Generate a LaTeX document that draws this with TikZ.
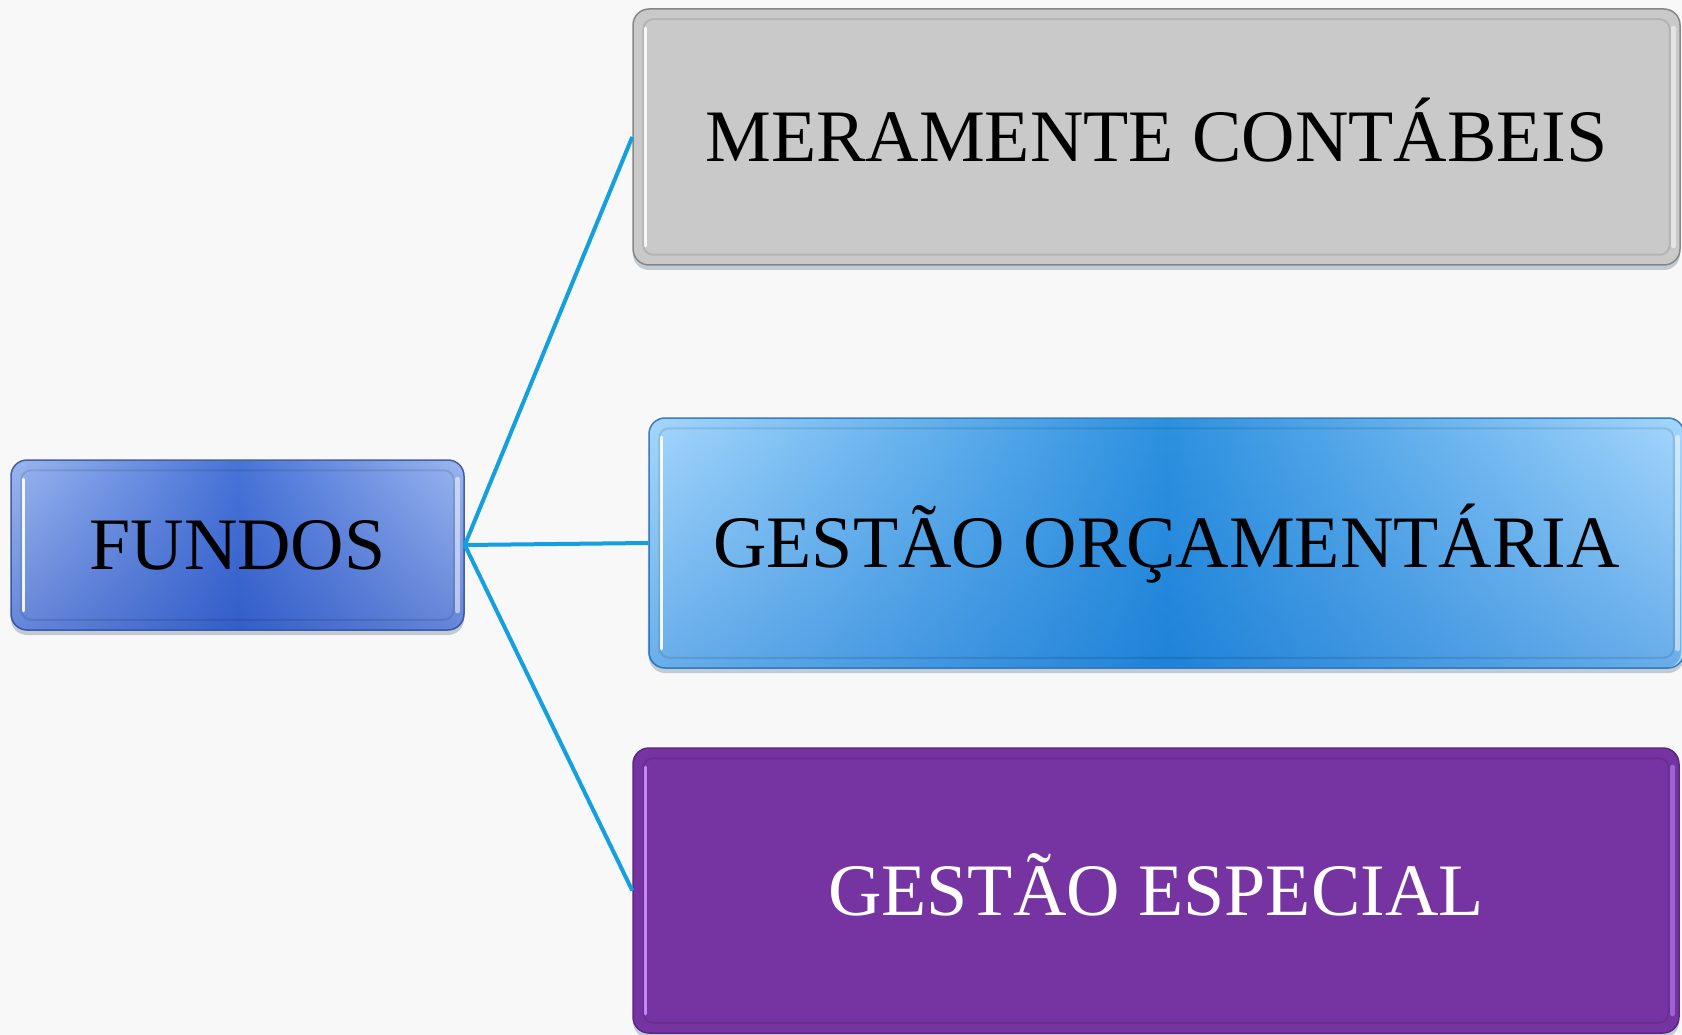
\documentclass[tikz,border=0pt]{standalone}
\usepackage{fontspec}
\setmainfont{Liberation Serif}
\usetikzlibrary{shadows,fadings}
\definecolor{bg}{RGB}{248,248,248}
\definecolor{conn}{RGB}{20,160,222}
\definecolor{grayfill}{RGB}{201,201,201}
\definecolor{grayedge}{RGB}{135,135,135}
\definecolor{fundL}{RGB}{155,182,240}
\definecolor{fundM}{RGB}{72,116,216}
\definecolor{fundD}{RGB}{18,58,178}
\definecolor{fundE}{RGB}{70,95,160}
\definecolor{orcL}{RGB}{165,215,253}
\definecolor{orcM}{RGB}{45,145,224}
\definecolor{orcD}{RGB}{10,108,205}
\definecolor{orcE}{RGB}{60,125,185}
\definecolor{purp}{RGB}{118,52,163}
\definecolor{purpE}{RGB}{92,38,132}
\definecolor{purpH}{RGB}{205,145,255}
\definecolor{shadowc}{RGB}{70,100,130}
\begin{document}
\begin{tikzpicture}[x=1pt,y=-1pt,
  box/.style={rounded corners=16pt, inner sep=0pt, line width=1.5pt,
    font=\fontsize{74}{80}\selectfont, text height=49pt, text depth=0pt,
    drop shadow={shadow xshift=0pt,shadow yshift=-5pt,opacity=.3,fill=shadowc}},
  glow/.style={postaction={fill=#1, opacity=.38, path fading=north}},
  conline/.style={conn, line width=4pt},
  lefthi/.style={line width=3.5pt, line cap=round, opacity=.9},
  righthi/.style={line width=5pt, line cap=round, opacity=.5},
  inner/.style={black, opacity=.10, line width=2pt, rounded corners=10pt}]
\useasboundingbox (0,0) rectangle (1682,1035);
\clip (0,0) rectangle (1682,1035);
\fill[bg] (0,0) rectangle (1682,1035);

\node[box, minimum width=453pt, minimum height=170pt, draw=fundE,
  left color=fundL, right color=fundL, middle color=fundM, glow=fundD] (fundos) at (237.5,545) {FUNDOS};
\node[box, minimum width=1047pt, minimum height=256pt, draw=grayedge, fill=grayfill] (cont) at (1156.5,137) {MERAMENTE CONTÁBEIS};
\node[box, minimum width=1035pt, minimum height=250pt, draw=orcE,
  left color=orcL, right color=orcL, middle color=orcM, glow=orcD] (orc) at (1166.5,543) {GESTÃO ORÇAMENTÁRIA};
\node[box, minimum width=1046pt, minimum height=285pt, draw=purpE, fill=purp, text=white] (esp) at (1156,890.5) {GESTÃO ESPECIAL};

% bevel highlights
\foreach \n/\hc in {fundos/white,cont/white,orc/white,esp/purpH}{
  \draw[inner] ([xshift=11pt,yshift=-11pt]\n.north west) rectangle ([xshift=-11pt,yshift=11pt]\n.south east);
  \draw[lefthi, \hc] ([xshift=13pt,yshift=-20pt]\n.north west) -- ([xshift=13pt,yshift=20pt]\n.south west);
  \draw[righthi, \hc] ([xshift=-7pt,yshift=-20pt]\n.north east) -- ([xshift=-7pt,yshift=20pt]\n.south east);
}

% connectors
\draw[conline] (fundos.east) -- (cont.west);
\draw[conline] (fundos.east) -- (orc.west);
\draw[conline] (fundos.east) -- (esp.west);
\end{tikzpicture}
\end{document}
